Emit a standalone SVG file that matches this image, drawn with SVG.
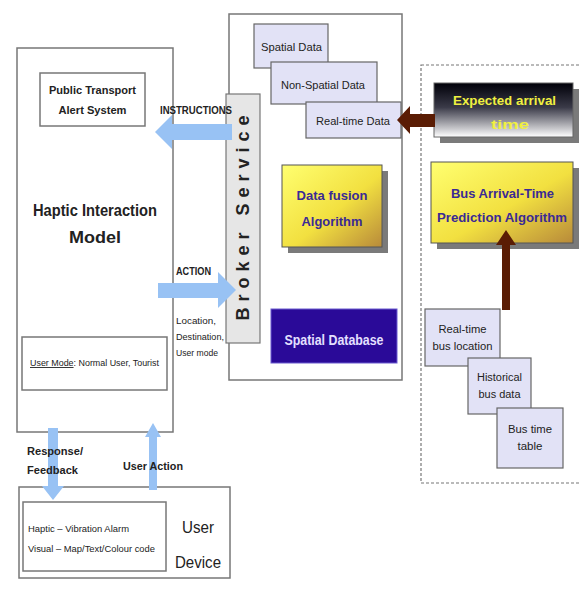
<svg xmlns="http://www.w3.org/2000/svg" width="579" height="591" viewBox="0 0 579 591">
<defs>
<linearGradient id="gYellow" x1="0" y1="0" x2="1" y2="1">
<stop offset="0" stop-color="#ffff70"/>
<stop offset="0.55" stop-color="#f2e040"/>
<stop offset="1" stop-color="#b88a3a"/>
</linearGradient>
<linearGradient id="gDark" x1="0" y1="0" x2="0" y2="1">
<stop offset="0" stop-color="#000008"/>
<stop offset="0.45" stop-color="#3a3a48"/>
<stop offset="1" stop-color="#ffffff"/>
</linearGradient>
<style>
.box{fill:#ffffff;stroke:#777;stroke-width:1.5}
.data{fill:#e2e2f6;stroke:#666;stroke-width:1.2}
.shadow{fill:#7a7a7a}
.t{font-family:"Liberation Sans",Arial,sans-serif;fill:#222}
.b{font-weight:bold}
.blue{fill:#98c2f4}
.brown{fill:#5a1c04}
.purple{fill:#3a2a95}
</style>
</defs>
<rect width="579" height="591" fill="#ffffff"/>

<g id="haptic-model">
<rect class="box" x="17" y="48" width="156" height="384"/>
<text class="t b" x="95" y="216" font-size="17" text-anchor="middle" textLength="124" lengthAdjust="spacingAndGlyphs">Haptic Interaction</text>
<text class="t b" x="95" y="243" font-size="17" text-anchor="middle" textLength="52" lengthAdjust="spacingAndGlyphs">Model</text>
</g>
<g id="alert-system">
<rect class="box" x="40" y="73" width="105" height="53"/>
<text class="t b" x="92.5" y="94" font-size="11" text-anchor="middle" textLength="87" lengthAdjust="spacingAndGlyphs">Public Transport</text>
<text class="t b" x="92.5" y="114" font-size="11" text-anchor="middle" textLength="68" lengthAdjust="spacingAndGlyphs">Alert System</text>
</g>
<g id="user-mode">
<rect class="box" x="22" y="337" width="145" height="53"/>
<text class="t" x="30" y="366" font-size="9" textLength="129" lengthAdjust="spacingAndGlyphs"><tspan text-decoration="underline">User Mode</tspan>: Normal User, Tourist</text>
</g>

<g id="server">
<rect class="box" x="229" y="14" width="173" height="366"/>
</g>
<g id="spatial-data">
<rect class="data" x="254" y="24" width="74" height="44"/>
<text class="t" x="291.5" y="51" font-size="11" text-anchor="middle" textLength="61" lengthAdjust="spacingAndGlyphs">Spatial Data</text>
</g>
<g id="non-spatial-data">
<rect class="data" x="271" y="62" width="106" height="42"/>
<text class="t" x="323" y="89" font-size="11" text-anchor="middle" textLength="84" lengthAdjust="spacingAndGlyphs">Non-Spatial Data</text>
</g>
<g id="real-time-data">
<rect class="data" x="306" y="102" width="95" height="36"/>
<text class="t" x="353" y="125" font-size="11" text-anchor="middle" textLength="74" lengthAdjust="spacingAndGlyphs">Real-time Data</text>
</g>
<g id="broker-service">
<rect x="226" y="94" width="34" height="249" fill="#e6e6e6" stroke="#777" stroke-width="1.2"/>
<text class="t b" transform="translate(249,218) rotate(-90)" font-size="18" text-anchor="middle" textLength="205" lengthAdjust="spacing">Broker Service</text>
</g>
<g id="data-fusion">
<rect class="shadow" x="288" y="171" width="100" height="82"/>
<rect x="282" y="165" width="100" height="82" fill="url(#gYellow)" stroke="#555" stroke-width="1"/>
<text class="t b purple" x="332" y="200" font-size="13" text-anchor="middle" textLength="71" lengthAdjust="spacingAndGlyphs">Data fusion</text>
<text class="t b purple" x="332" y="226" font-size="13" text-anchor="middle" textLength="61" lengthAdjust="spacingAndGlyphs">Algorithm</text>
</g>
<g id="spatial-database">
<rect x="271" y="309" width="126" height="54" fill="#2a0a98" stroke="#6a5ad0" stroke-width="1"/>
<text class="t b" x="334" y="345" font-size="14" text-anchor="middle" fill="#e4e0ff" style="fill:#e4e0ff" textLength="99" lengthAdjust="spacingAndGlyphs">Spatial Database</text>
</g>

<g id="prediction-system">
<rect x="421" y="65" width="160" height="418" fill="none" stroke="#777" stroke-width="1.2" stroke-dasharray="3,2"/>
</g>
<g id="expected-arrival">
<rect class="shadow" x="440" y="89" width="139" height="54"/>
<rect x="434" y="83" width="139" height="54" fill="url(#gDark)" stroke="#666" stroke-width="1"/>
<text class="t b" x="504.5" y="105" font-size="13" text-anchor="middle" style="fill:#f0f040" textLength="103" lengthAdjust="spacingAndGlyphs">Expected arrival</text>
<text class="t b" x="510" y="129" font-size="13" text-anchor="middle" style="fill:#f0f040" textLength="38" lengthAdjust="spacingAndGlyphs">time</text>
</g>
<g id="prediction-algorithm">
<rect class="shadow" x="437" y="168" width="142" height="81"/>
<rect x="431" y="162" width="142" height="81" fill="url(#gYellow)" stroke="#555" stroke-width="1"/>
<text class="t b purple" x="502.5" y="198" font-size="13" text-anchor="middle" textLength="103" lengthAdjust="spacingAndGlyphs">Bus Arrival-Time</text>
<text class="t b purple" x="502" y="222" font-size="13" text-anchor="middle" textLength="130" lengthAdjust="spacingAndGlyphs">Prediction Algorithm</text>
</g>
<g id="real-time-bus-location">
<rect class="data" x="425" y="309" width="75" height="57"/>
<text class="t" x="462.5" y="333" font-size="10" text-anchor="middle" textLength="48" lengthAdjust="spacingAndGlyphs">Real-time</text>
<text class="t" x="462.5" y="350" font-size="10" text-anchor="middle" textLength="60" lengthAdjust="spacingAndGlyphs">bus location</text>
</g>
<g id="historical-bus-data">
<rect class="data" x="468" y="358" width="63" height="56"/>
<text class="t" x="499.5" y="381" font-size="10" text-anchor="middle" textLength="45" lengthAdjust="spacingAndGlyphs">Historical</text>
<text class="t" x="499.5" y="398" font-size="10" text-anchor="middle" textLength="42" lengthAdjust="spacingAndGlyphs">bus data</text>
</g>
<g id="bus-time-table">
<rect class="data" x="497" y="408" width="66" height="60"/>
<text class="t" x="530" y="433" font-size="10" text-anchor="middle" textLength="44" lengthAdjust="spacingAndGlyphs">Bus time</text>
<text class="t" x="530" y="450" font-size="10" text-anchor="middle" textLength="25" lengthAdjust="spacingAndGlyphs">table</text>
</g>

<g id="user-device">
<rect class="box" x="19" y="487" width="211" height="91"/>
<rect class="box" x="23" y="502" width="143" height="69"/>
<text class="t" x="28" y="532" font-size="8.5" textLength="101" lengthAdjust="spacingAndGlyphs">Haptic – Vibration Alarm</text>
<text class="t" x="28" y="552" font-size="8.5" textLength="127" lengthAdjust="spacingAndGlyphs">Visual – Map/Text/Colour code</text>
<text class="t" x="198" y="533" font-size="17" text-anchor="middle" textLength="32" lengthAdjust="spacingAndGlyphs">User</text>
<text class="t" x="198" y="568" font-size="17" text-anchor="middle" textLength="46" lengthAdjust="spacingAndGlyphs">Device</text>
</g>

<g id="connectors">
<polygon class="blue" points="155,132 172,115 172,124 232,124 232,140 172,140 172,149"/>
<text class="t b" x="160" y="114" font-size="10" textLength="72" lengthAdjust="spacingAndGlyphs">INSTRUCTIONS</text>
<polygon class="blue" points="158,283 218,283 218,272 236,290 218,308 218,298 158,298"/>
<text class="t b" x="176" y="275" font-size="10" textLength="35" lengthAdjust="spacingAndGlyphs">ACTION</text>
<text class="t" x="176" y="324" font-size="9" textLength="40" lengthAdjust="spacingAndGlyphs">Location,</text>
<text class="t" x="176" y="340" font-size="9" textLength="48" lengthAdjust="spacingAndGlyphs">Destination,</text>
<text class="t" x="176" y="356" font-size="9" textLength="42" lengthAdjust="spacingAndGlyphs">User mode</text>
<polygon class="brown" points="397,120 410,106 410,114 435,114 435,127 410,127 410,134"/>
<polygon class="brown" points="506,230 516,245 510,245 510,310 502,310 502,245 496,245"/>
<polygon class="blue" points="48,428 58,428 58,486 64,486 53,500 42,486 48,486"/>
<polygon class="blue" points="153,423 161,437 157,437 157,490 149,490 149,437 145,437"/>
<text class="t b" x="27" y="455" font-size="10" textLength="56" lengthAdjust="spacingAndGlyphs">Response/</text>
<text class="t b" x="27" y="474" font-size="10" textLength="51" lengthAdjust="spacingAndGlyphs">Feedback</text>
<text class="t b" x="123" y="470" font-size="11" textLength="60" lengthAdjust="spacingAndGlyphs">User Action</text>
</g>
</svg>
